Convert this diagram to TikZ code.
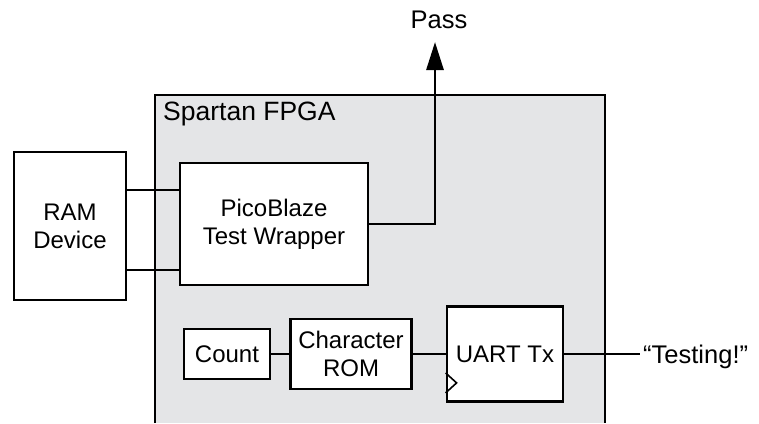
\documentclass[tikz,border=0pt]{standalone}
\usepackage{fontspec}
\setmainfont{Liberation Sans}
\usetikzlibrary{arrows.meta}
\definecolor{fpgagray}{HTML}{E4E5E7}
\tikzset{
  blk/.style={draw=black, fill=white, line width=2.8pt, inner sep=0pt, align=center,
    font=\fontsize{24}{28}\selectfont},
  wire/.style={line width=2.8pt},
  lbl/.style={inner sep=0pt, font=\fontsize{25.5}{30}\selectfont},
}
\begin{document}
\begin{tikzpicture}[x=1pt,y=-1pt]
\useasboundingbox (0,0) rectangle (759,423);
% FPGA region
\fill[fpgagray] (155,95) rectangle (605,423);
\draw[wire] (155,423) -- (155,95) -- (605,95) -- (605,423);
\node[lbl, anchor=base west, font=\fontsize{26.5}{30}\selectfont] (fpga) at (163,120) {Spartan FPGA};
% blocks
\node[blk, minimum width=112pt, minimum height=148pt] (ram) at (70,226) {RAM\\Device};
\node[blk, minimum width=188pt, minimum height=122pt] (pb) at (274,224) {PicoBlaze\\Test Wrapper};
\node[blk, minimum width=86pt, minimum height=50pt] (count) at (227,354) {Count};
\node[blk, minimum width=121pt, minimum height=70pt] (rom) at (351,354) {Character\\ROM};
\node[blk, minimum width=116pt, minimum height=95pt] (uart) at (505,354) {UART Tx};
% RAM to PicoBlaze
\coordinate (r1) at ([yshift=36pt]ram.east);
\coordinate (r2) at ([yshift=-44pt]ram.east);
\draw[wire] (r1) -- (r1 -| pb.west);
\draw[wire] (r2) -- (r2 -| pb.west);
% Pass output
\node[lbl, anchor=base] (pass) at (439,28) {Pass};
\coordinate (tip) at (435,42);
\draw[wire, -{Triangle[length=28pt,width=17pt]}] (pb.east) -| (tip);
% bottom chain
\draw[wire] (count.east) -- (rom.west);
\draw[wire] (rom.east) -- (rom.east -| uart.west);
\node[lbl, anchor=base west] (test) at (643,363) {“Testing!”};
\coordinate (tend) at (640,354);
\draw[wire] (uart.east) -- (tend);
% clock marker
\draw[line width=1.6pt] ([yshift=30pt]uart.south west) -- ++(11,10) -- ++(-11,10);
\end{tikzpicture}
\end{document}
